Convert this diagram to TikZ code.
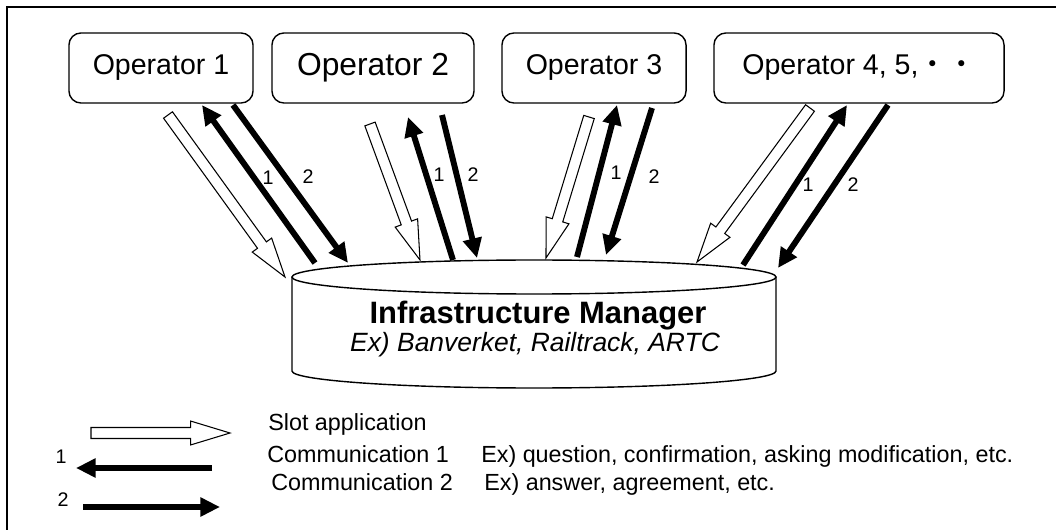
\documentclass[tikz,border=0pt]{standalone}
\usepackage{fontspec}
\setmainfont{Liberation Sans}
\newfontfamily\cjk{Noto Sans CJK JP}
\usetikzlibrary{arrows.meta,calc}
\newcommand{\slotarrow}[2]{%
  \path[slot] let \p1=($(#2)-(#1)$), \n1={atan2(\y1,\x1)}, \n2={veclen(\x1,\y1)} in
    [shift={(#1)}, rotate=\n1]
    (0pt,-3.9pt) -- ({\n2*1pt-28pt},-3.9pt) -- ({\n2*1pt-28pt},-8.5pt) -- ({\n2*1pt},0pt)
    -- ({\n2*1pt-28pt},8.5pt) -- ({\n2*1pt-28pt},3.9pt) -- (0pt,3.9pt) -- cycle;}

\begin{document}
\begin{tikzpicture}[x=0.025cm, y=-0.025cm,
    op/.style={draw, rounded corners=8.5pt, line width=1pt, minimum height=49.8pt, inner sep=0pt, font=\fontsize{20.3}{24}\selectfont},
    conn/.style={line width=4.2pt, -{Triangle[length=14pt,width=13pt]}},
    slot/.style={draw, fill=white, line width=0.75pt},
    num/.style={inner sep=0pt, font=\fontsize{14}{16}\selectfont},
    legend/.style={anchor=base west, inner sep=0pt, font=\fontsize{16.6}{20}\selectfont},
]
\useasboundingbox (0,0) rectangle (1056,530);
\draw[line width=1.1pt] (1056,7) -- (7,7) -- (7,530);

\node[op, minimum width=130.9pt] (op1) at (161,68) {Operator 1};
\node[op, minimum width=143.7pt, font=\fontsize{22.6}{26}\selectfont] (op2) at (373,68) {Operator 2};
\node[op, minimum width=130.9pt] (op3) at (594,68) {Operator 3};
\node[op, minimum width=206.3pt] (op4) at (859,68) {Operator 4, 5,{\cjk ・・}};

\draw[line width=1pt] (292,277) -- (292,371) arc[start angle=180, end angle=0, x radius=242, y radius=17] -- (776,277);
\draw[line width=1pt, fill=white] (534,277) ellipse [x radius=242, y radius=17];
\node[anchor=base, font=\fontsize{22}{26}\selectfont\bfseries] (im) at (538,323) {Infrastructure Manager};
\node[anchor=base, font=\fontsize{18.8}{22}\selectfont\itshape] (imex) at (535,351) {Ex) Banverket, Railtrack, ARTC};

\coordinate (s1top) at (168,115); \coordinate (s1bot) at (285,277);
\coordinate (u1bot) at (315,263); \coordinate (u1top) at (202,105);
\coordinate (d1top) at (233,105); \coordinate (d1bot) at (348,263);
\coordinate (s2top) at (370,124); \coordinate (s2bot) at (420,260);
\coordinate (u2bot) at (453,260); \coordinate (u2top) at (408,117);
\coordinate (d2top) at (442,115); \coordinate (d2bot) at (477,258);
\coordinate (s3top) at (589,117); \coordinate (s3bot) at (546,258);
\coordinate (u3bot) at (577,257); \coordinate (u3top) at (617,105);
\coordinate (d3top) at (652,108); \coordinate (d3bot) at (606,255);
\coordinate (s4top) at (810,108); \coordinate (s4bot) at (697,262);
\coordinate (u4bot) at (743,265); \coordinate (u4top) at (847,105);
\coordinate (d4top) at (888,105); \coordinate (d4bot) at (778,268);

\slotarrow{s1top}{s1bot}
\slotarrow{s2top}{s2bot}
\slotarrow{s3top}{s3bot}
\slotarrow{s4top}{s4bot}
\draw[conn] (u1bot) -- (u1top);
\draw[conn] (d1top) -- (d1bot);
\draw[conn] (u2bot) -- (u2top);
\draw[conn] (d2top) -- (d2bot);
\draw[conn] (u3bot) -- (u3top);
\draw[conn] (d3top) -- (d3bot);
\draw[conn] (u4bot) -- (u4top);
\draw[conn] (d4top) -- (d4bot);

\node[num] (n1a) at (268,178) {1};
\node[num] (n1b) at (308,177) {2};
\node[num] (n2a) at (439,175) {1};
\node[num] (n2b) at (473,175) {2};
\node[num] (n3a) at (616,173) {1};
\node[num] (n3b) at (654,177) {2};
\node[num] (n4a) at (808,185) {1};
\node[num] (n4b) at (853,185) {2};

\coordinate (ls) at (91,433);  \coordinate (le) at (230,433);
\coordinate (l1s) at (212,468); \coordinate (l1e) at (76,468);
\coordinate (l2s) at (83,507);  \coordinate (l2e) at (220,507);
\slotarrow{ls}{le}
\draw[conn] (l1s) -- (l1e);
\draw[conn] (l2s) -- (l2e);
\node[num] (k1) at (61,457) {1};
\node[num] (k2) at (63,500) {2};

\node[legend] (slot) at (268,430) {Slot application};
\node[legend] (c1) at (267,462) {Communication 1};
\node[legend] (c1ex) at (481,462) {Ex) question, confirmation, asking modification, etc.};
\node[legend] (c2) at (271,490) {Communication 2};
\node[legend] (c2ex) at (484,490) {Ex) answer, agreement, etc.};
\end{tikzpicture}
\end{document}
